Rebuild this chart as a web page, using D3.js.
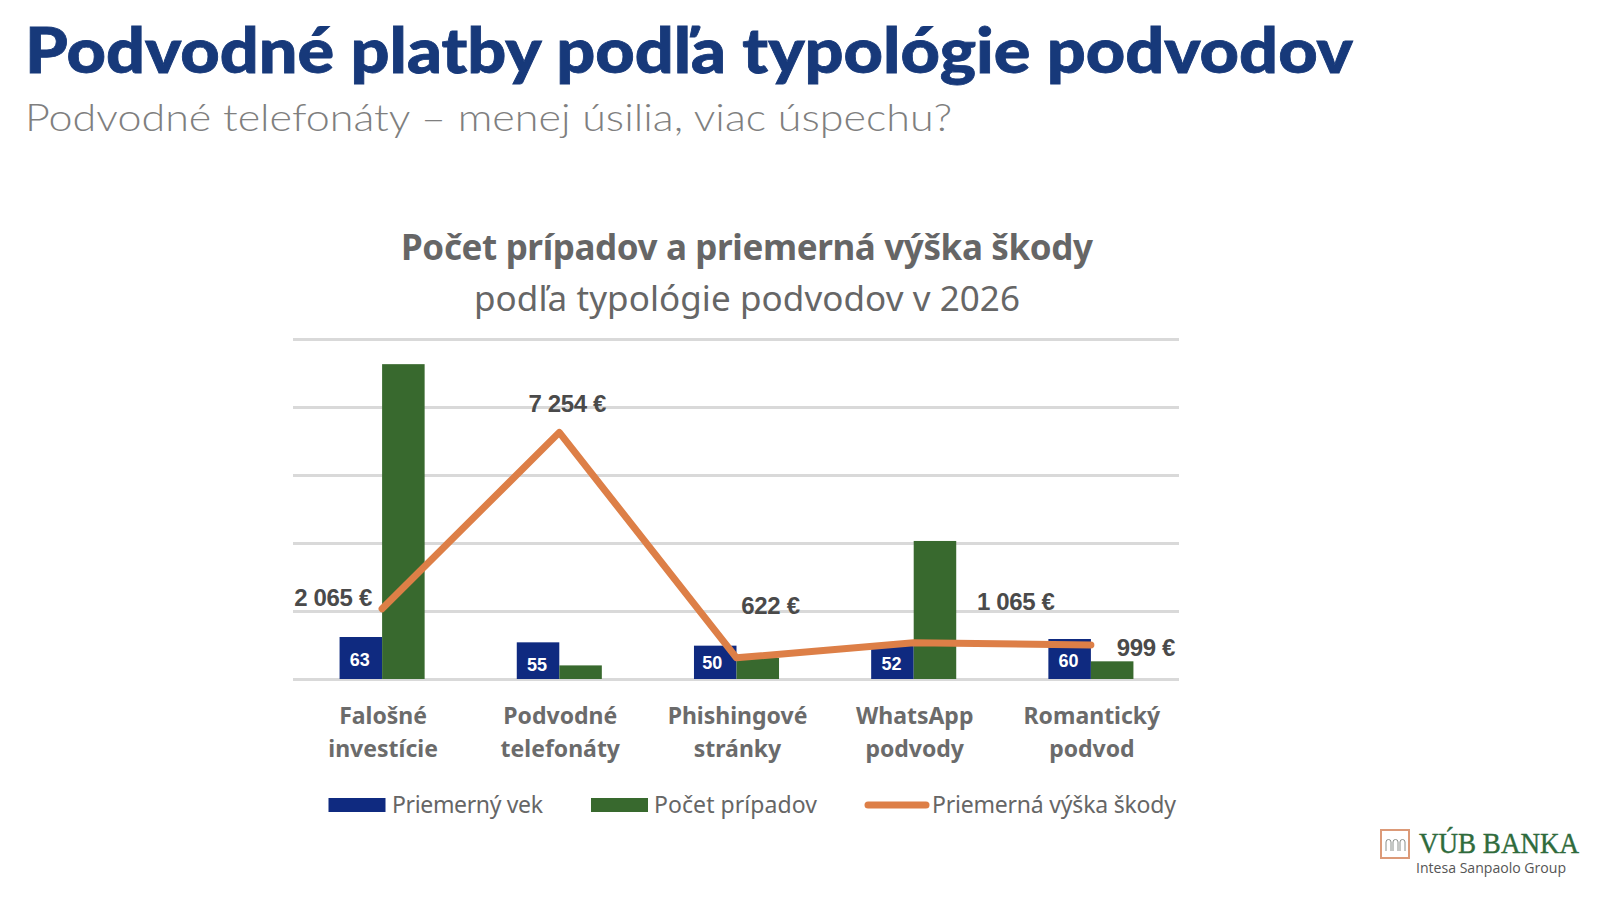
<!DOCTYPE html>
<html lang="sk">
<head>
<meta charset="utf-8">
<title>Podvodné platby</title>
<script src="https://cdn.jsdelivr.net/npm/d3@7"></script>
<style>
  html, body { margin: 0; padding: 0; background: #fff; }
  svg { display: block; }
</style>
</head>
<body>
<div id="chart"></div>
<script>
// Data z grafu
const categories = [
    ["Falošné", "investície"],
    ["Podvodné", "telefonáty"],
    ["Phishingové", "stránky"],
    ["WhatsApp", "podvody"],
    ["Romantický", "podvod"],
];
const avgAge = [63, 55, 50, 52, 60];
const caseCount = [463, 20, 31, 203, 26];
const avgDamage = [2065, 7254, 622, 1065, 999];
const damageLabels = ["2 065 €", "7 254 €", "622 €", "1 065 €", "999 €"];
const seriesNames = ["Priemerný vek", "Počet prípadov", "Priemerná výška škody"];
const gridTicks = [0, 100, 200, 300, 400, 500];

// Posuny popisov (nie sú to dáta)
const damageLabelOffset = [[-49, -11], [8, -29], [34, -52], [102, -41], [55, 2]];
const ageLabelOffset = [[-1, 2], [-1, 4], [-3, 0], [-1, 2], [-1, 2]];

const width = 1600, height = 900;
const blue = "#0f2a80", green = "#38692e", orange = "#dd7f47";
const gray = "#595959";
const chartFont = "'Noto Sans', sans-serif";

const svg = d3.select("#chart").append("svg")
    .attr("width", width)
    .attr("height", height)
    .attr("viewBox", `0 0 ${width} ${height}`);

// Nadpisy
svg.append("text")
    .attr("x", 25).attr("y", 73)
    .attr("font-family", "Lato, sans-serif")
    .attr("font-weight", 900)
    .attr("font-size", 63)
    .attr("fill", "#17397a")
    .attr("stroke", "#17397a")
    .attr("stroke-width", 0.8)
    .attr("textLength", 1328)
    .attr("lengthAdjust", "spacingAndGlyphs")
    .text("Podvodné platby podľa typológie podvodov");

svg.append("text")
    .attr("x", 25).attr("y", 131)
    .attr("font-family", "Lato, sans-serif")
    .attr("font-weight", 300)
    .attr("font-size", 38)
    .attr("fill", "#7f7f7f")
    .attr("textLength", 927)
    .attr("lengthAdjust", "spacingAndGlyphs")
    .text("Podvodné telefonáty – menej úsilia, viac úspechu?");

svg.append("text")
    .attr("x", 747).attr("y", 260)
    .attr("text-anchor", "middle")
    .attr("font-family", chartFont)
    .attr("font-weight", 700)
    .attr("font-size", 35)
    .attr("fill", "#666")
    .attr("textLength", 692)
    .attr("lengthAdjust", "spacing")
    .text("Počet prípadov a priemerná výška škody");

svg.append("text")
    .attr("x", 747).attr("y", 311)
    .attr("text-anchor", "middle")
    .attr("font-family", chartFont)
    .attr("font-size", 35)
    .attr("fill", "#666")
    .attr("textLength", 546)
    .attr("lengthAdjust", "spacing")
    .text("podľa typológie podvodov v 2026");

// Mierky
const x = d3.scaleBand()
    .domain(d3.range(categories.length))
    .range([293.5, 1179.5])
    .paddingInner(0.52)
    .paddingOuter(0.26);
const xCenter = i => x(i) + x.bandwidth() / 2;
const y = d3.scaleLinear().domain([0, 500]).range([679, 339]);
const yAge = d3.scaleLinear().domain([0, 510]).range([679, 339]);
const yDamage = d3.scaleLinear().domain([0, 10000]).range([679, 339]);

// Mriežka
const grid = svg.append("g")
    .attr("transform", "translate(293,0)")
    .call(d3.axisLeft(y).tickValues(gridTicks).tickSize(-886).tickFormat(""));
grid.select(".domain").remove();
grid.selectAll("line").attr("stroke", "#d9d9d9").attr("stroke-width", 2.8);

// Stĺpce
svg.selectAll("rect.age")
    .data(avgAge)
    .enter().append("rect")
    .attr("class", "age")
    .attr("x", (d, i) => x(i))
    .attr("y", d => yAge(d))
    .attr("width", x.bandwidth() / 2)
    .attr("height", d => yAge(0) - yAge(d))
    .attr("fill", blue);

svg.selectAll("rect.cases")
    .data(caseCount)
    .enter().append("rect")
    .attr("class", "cases")
    .attr("x", (d, i) => xCenter(i))
    .attr("y", d => y(d))
    .attr("width", x.bandwidth() / 2)
    .attr("height", d => y(0) - y(d))
    .attr("fill", green);

// Čiara
const line = d3.line()
    .x((d, i) => xCenter(i))
    .y(d => yDamage(d));

svg.append("path")
    .datum(avgDamage)
    .attr("d", line)
    .attr("fill", "none")
    .attr("stroke", orange)
    .attr("stroke-width", 7)
    .attr("stroke-linejoin", "round")
    .attr("stroke-linecap", "round");

// Popisy veku
svg.selectAll("text.age")
    .data(avgAge)
    .enter().append("text")
    .attr("class", "age")
    .attr("x", (d, i) => x(i) + x.bandwidth() / 4 + ageLabelOffset[i][0])
    .attr("y", (d, i) => (yAge(d) + yAge(0)) / 2 + ageLabelOffset[i][1])
    .attr("dy", "0.36em")
    .attr("text-anchor", "middle")
    .attr("font-family", "'Liberation Sans', sans-serif")
    .attr("font-weight", 700)
    .attr("font-size", 18)
    .attr("fill", "#fff")
    .text(d => d);

// Popisy škody
svg.selectAll("text.damage")
    .data(avgDamage)
    .enter().append("text")
    .attr("class", "damage")
    .attr("x", (d, i) => xCenter(i) + damageLabelOffset[i][0])
    .attr("y", (d, i) => yDamage(d) + damageLabelOffset[i][1])
    .attr("dy", "0.36em")
    .attr("text-anchor", "middle")
    .attr("font-family", "'Liberation Sans', sans-serif")
    .attr("font-weight", 700)
    .attr("font-size", 24)
    .attr("letter-spacing", -0.35)
    .attr("fill", "#4a4a4a")
    .text((d, i) => damageLabels[i]);

// Kategórie
const catLabels = svg.selectAll("text.cat")
    .data(categories)
    .enter().append("text")
    .attr("class", "cat")
    .attr("text-anchor", "middle")
    .attr("font-family", chartFont)
    .attr("font-weight", 700)
    .attr("font-size", 23)
    .attr("fill", "#6b6b6b");
catLabels.append("tspan")
    .attr("x", (d, i) => xCenter(i) + 1)
    .attr("y", 724)
    .text(d => d[0]);
catLabels.append("tspan")
    .attr("x", (d, i) => xCenter(i) + 1)
    .attr("y", 757)
    .text(d => d[1]);

// Legenda
const legendY = 805;
const legendRects = [[328.5, blue], [591, green]];
legendRects.forEach(d => {
    svg.append("rect")
        .attr("x", d[0]).attr("y", legendY - 7)
        .attr("width", 57).attr("height", 14)
        .attr("fill", d[1]);
});
svg.append("line")
    .attr("x1", 868).attr("x2", 926)
    .attr("y1", legendY).attr("y2", legendY)
    .attr("stroke", orange)
    .attr("stroke-width", 7)
    .attr("stroke-linecap", "round");

const legendX = [392, 654, 932];
const legendW = [151, 163, 244];
svg.selectAll("text.legend")
    .data(seriesNames)
    .enter().append("text")
    .attr("class", "legend")
    .attr("x", (d, i) => legendX[i])
    .attr("y", legendY + 8)
    .attr("font-family", chartFont)
    .attr("font-size", 23)
    .attr("fill", "#666")
    .attr("textLength", (d, i) => legendW[i])
    .attr("lengthAdjust", "spacing")
    .text(d => d);

// Logo
const logo = svg.append("g");
logo.append("rect")
    .attr("x", 1381).attr("y", 830)
    .attr("width", 28).attr("height", 28)
    .attr("fill", "none")
    .attr("stroke", "#dc9a78")
    .attr("stroke-width", 2);
logo.append("path")
    .attr("d", "M1386 851v-9a2.5 2.5 0 0 1 5 0v9M1393 851v-9a2.5 2.5 0 0 1 5 0v9M1400 851v-9a2.5 2.5 0 0 1 5 0v9")
    .attr("fill", "none")
    .attr("stroke", "#8a8f8a")
    .attr("stroke-width", 1);
logo.append("text")
    .attr("x", 1419).attr("y", 853)
    .attr("font-family", "'Liberation Serif', serif")
    .attr("font-size", 29)
    .attr("fill", "#2f6b3c")
    .attr("stroke", "#2f6b3c")
    .attr("stroke-width", 0.4)
    .attr("textLength", 160)
    .attr("lengthAdjust", "spacingAndGlyphs")
    .text("VÚB BANKA");
logo.append("text")
    .attr("x", 1416).attr("y", 873)
    .attr("font-family", "'Open Sans', sans-serif")
    .attr("font-size", 14)
    .attr("fill", "#555")
    .attr("textLength", 150)
    .attr("lengthAdjust", "spacingAndGlyphs")
    .text("Intesa Sanpaolo Group");
</script>
</body>
</html>
